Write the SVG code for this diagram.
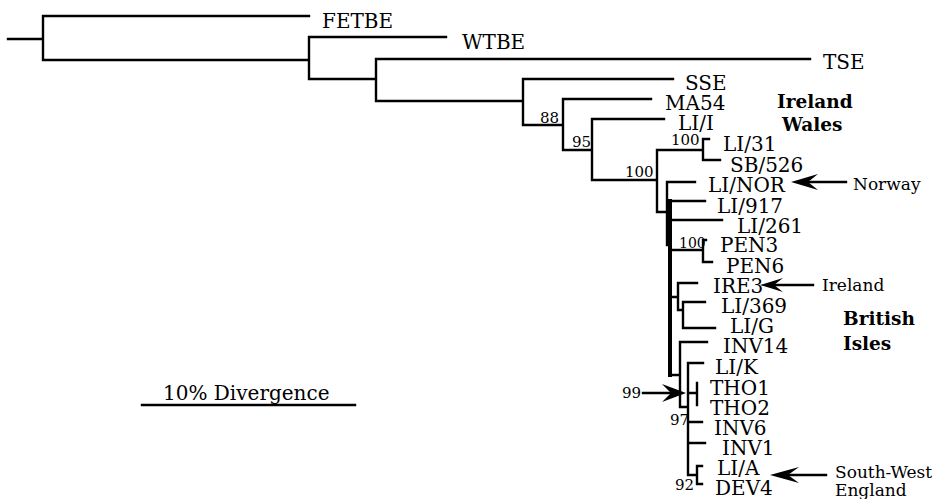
<svg xmlns="http://www.w3.org/2000/svg" width="934" height="499" viewBox="0 0 934 499">
<style>
.t{font-family:"DejaVu Serif","Liberation Serif",serif;font-size:20px;fill:#000}
.n{font-family:"DejaVu Serif","Liberation Serif",serif;font-size:15px;fill:#000}
.s{font-family:"DejaVu Serif","Liberation Serif",serif;font-size:17px;fill:#000}
.b{font-family:"DejaVu Serif","Liberation Serif",serif;font-size:18.5px;font-weight:bold;fill:#000}
.e{fill:none;stroke:#000;stroke-width:2.4;stroke-linecap:square}
.a{fill:#000;stroke:none}
</style>
<rect width="934" height="499" fill="#fff"/>
<g id="connectors">
<path class="e" d="M8,39H43M43,16V60M43,16H309M43,60H309M309,37V79M309,37H446M309,79H376M376,59V101M376,59H810M376,101H523M523,79V125M523,79H673M523,125H563M563,99V150M563,99H651M563,150H592M592,119V180M592,119H664M592,180H657M657,150V212M657,150H703M703,139V160M703,139H709M703,160H720M657,212H667M667,182V245M667,182H695M667,245H670"/>
<path class="e" d="M670,201V375" style="stroke-width:4"/>
<path class="e" d="M670,201H705M670,220H722M670,250H703M703,240V262M703,240H706M703,262H712M670,297H678M678,283V310M678,283H697M678,310H683M683,302V328M683,302H705M683,328H715M670,375H680M680,342V407M680,342H707M680,407H688M688,363V475M688,363H703M688,393H697M697,383V405M688,422H702M688,443H705M688,475H697M697,466V484M697,466H702M697,484H702"/>
<path class="e" d="M142,405H355"/>
<path class="e" d="M643,393H672"/>
<path class="a" d="M686,393L662,384L671,393L662,402Z"/>
<path class="e" d="M808,182H846"/>
<path class="a" d="M791,182L818,174L808,182L818,190Z"/>
<path class="e" d="M772,285H813"/>
<path class="a" d="M760,285L783,278L774,285L783,292Z"/>
<path class="e" d="M788,475H826"/>
<path class="a" d="M770,475L799,467L788,475L799,483Z"/>
</g>
<g id="leaf-FETBE"><text class="t" x="322" y="28">FETBE</text></g>
<g id="leaf-WTBE"><text class="t" x="462" y="49">WTBE</text></g>
<g id="leaf-TSE"><text class="t" x="823" y="69">TSE</text></g>
<g id="leaf-SSE"><text class="t" x="685" y="90">SSE</text></g>
<g id="leaf-MA54"><text class="t" x="665" y="110">MA54</text></g>
<g id="leaf-LI-I"><text class="t" x="678" y="130">LI/I</text></g>
<g id="leaf-LI-31"><text class="t" x="723" y="151">LI/31</text></g>
<g id="leaf-SB-526"><text class="t" x="730" y="172">SB/526</text></g>
<g id="leaf-LI-NOR"><text class="t" x="708" y="192">LI/NOR</text></g>
<g id="leaf-LI-917"><text class="t" x="717" y="213">LI/917</text></g>
<g id="leaf-LI-261"><text class="t" x="737" y="233">LI/261</text></g>
<g id="leaf-PEN3"><text class="t" x="720" y="252">PEN3</text></g>
<g id="leaf-PEN6"><text class="t" x="726" y="273">PEN6</text></g>
<g id="leaf-IRE3"><text class="t" x="713" y="293">IRE3</text></g>
<g id="leaf-LI-369"><text class="t" x="721" y="313">LI/369</text></g>
<g id="leaf-LI-G"><text class="t" x="730" y="333">LI/G</text></g>
<g id="leaf-INV14"><text class="t" x="723" y="353">INV14</text></g>
<g id="leaf-LI-K"><text class="t" x="715" y="374">LI/K</text></g>
<g id="leaf-THO1"><text class="t" x="710" y="395">THO1</text></g>
<g id="leaf-THO2"><text class="t" x="710" y="415">THO2</text></g>
<g id="leaf-INV6"><text class="t" x="714" y="435">INV6</text></g>
<g id="leaf-INV1"><text class="t" x="722" y="455">INV1</text></g>
<g id="leaf-LI-A"><text class="t" x="717" y="475">LI/A</text></g>
<g id="leaf-DEV4"><text class="t" x="715" y="495">DEV4</text></g>
<g id="support">
<text class="n" x="540" y="123">88</text>
<text class="n" x="572" y="147">95</text>
<text class="n" x="625" y="177">100</text>
<text class="n" x="671" y="145">100</text>
<text class="n" x="679" y="248" style="font-size:14px">100</text>
<text class="n" x="622" y="398">99</text>
<text class="n" x="670" y="425">97</text>
<text class="n" x="675" y="490">92</text>
</g>
<g id="regions">
<text class="b" x="777" y="108">Ireland</text>
<text class="b" x="782" y="131">Wales</text>
<text class="b" x="843" y="325">British</text>
<text class="b" x="843" y="350">Isles</text>
<text class="s" x="853" y="190">Norway</text>
<text class="s" x="822" y="291">Ireland</text>
<text class="s" x="835" y="478">South-West</text>
<text class="s" x="835" y="496">England</text>
</g>
<g id="scale"><text class="t" x="163" y="400">10% Divergence</text></g>
</svg>
